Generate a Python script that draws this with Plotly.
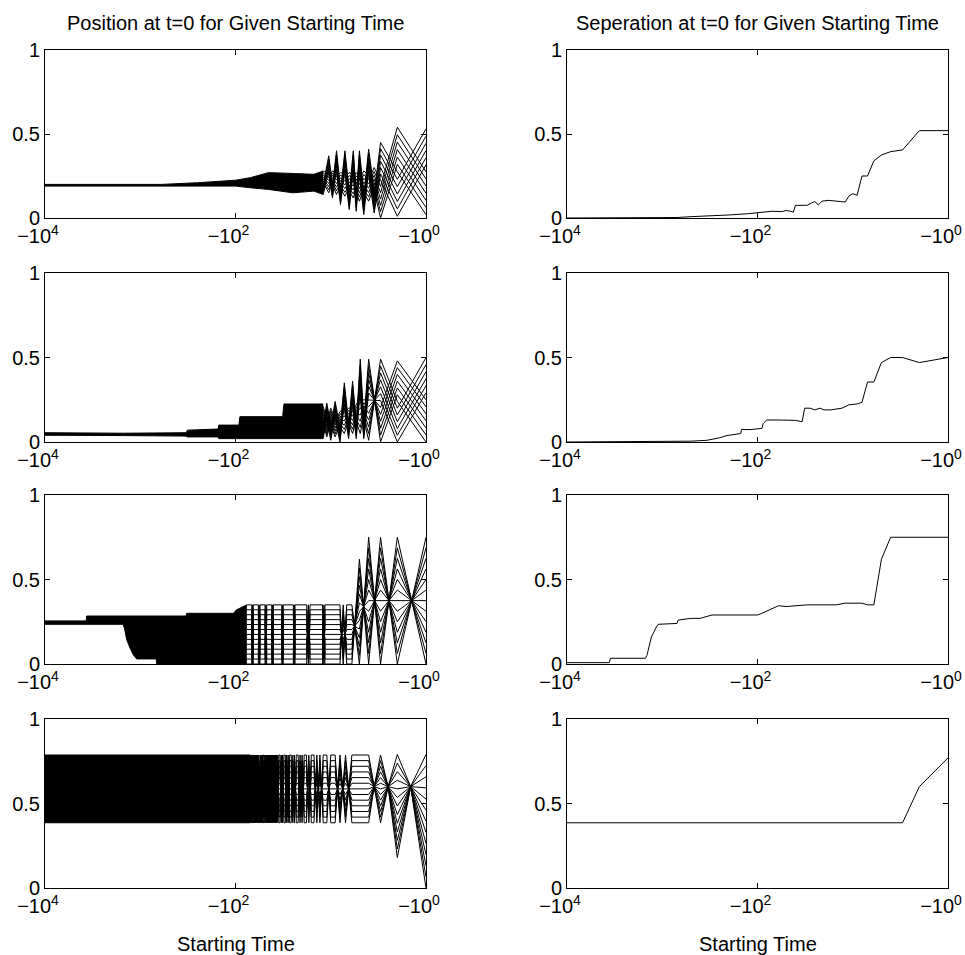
import plotly.graph_objects as go

# ---------------- DATA ----------------
L = 13  # trajectories drawn in each left-hand panel

# Left column, sparse part: |starting time|, lower / upper spread, order change vs previous time
# ('-' first, 'h' half shift -> lattice, 'r' reversed -> bow-tie, 's' same order -> rungs)
p1_n  = [1, 2, 3, 3.5, 4, 4.5, 5, 5.4, 5.8, 6.4, 7.1, 7.9, 8.7, 9.6, 10.5, 12]
p1_lo = [0.02, 0.01, 0.00, 0.03, 0.10, 0.02, 0.10, 0.04, 0.12, 0.05, 0.13, 0.08, 0.14, 0.12, 0.15, 0.14]
p1_hi = [0.53, 0.54, 0.45, 0.30, 0.41, 0.28, 0.40, 0.27, 0.40, 0.27, 0.40, 0.27, 0.40, 0.28, 0.37, 0.28]
p1_md = "-hhhhhhhhhhhhhhh"
# dense part (solid band): |starting time|, lower, upper
p1_dn  = [12, 15, 25, 45, 70, 100, 250, 600, 10000]
p1_dlo = [0.14, 0.16, 0.15, 0.17, 0.18, 0.19, 0.19, 0.19, 0.19]
p1_dhi = [0.28, 0.26, 0.265, 0.27, 0.24, 0.225, 0.21, 0.20, 0.20]

p2_n  = [1, 2, 3, 4, 4.5, 4.9, 5.4, 5.9, 6.5, 7.2, 8, 9, 10, 11, 12]
p2_lo = [0.0, 0.0, 0.0, 0.01, 0.02, 0.05, 0.02, 0.05, 0.02, 0.05, 0.0, 0.03, 0.01, 0.03, 0.02]
p2_hi = [0.50, 0.48, 0.49, 0.49, 0.25, 0.49, 0.22, 0.36, 0.20, 0.35, 0.18, 0.24, 0.20, 0.23, 0.21]
p2_md = "-hhrhhhhhhhhhhh"
p2_dn  = [12, 31, 32, 90, 92, 150, 152, 320, 330, 1500, 10000]
p2_dlo = [0.02, 0.02, 0.02, 0.02, 0.02, 0.02, 0.03, 0.03, 0.035, 0.038, 0.04]
p2_dhi = [0.225, 0.225, 0.15, 0.15, 0.10, 0.10, 0.077, 0.07, 0.055, 0.052, 0.055]

p3_n  = [1, 2, 3, 4, 5, 6.0, 6.8, 7.4, 8, 11.5, 11.8, 12.2, 16.5, 17.2, 17.9, 23.7, 24.2, 24.7,
         31.5, 32.1, 32.7, 40, 40.8, 41.7, 47, 48, 49, 55.3, 56.4, 57.6, 65, 66.3, 67.6, 76]
p3_lo = [0.0] * 34
p3_hi = [0.75, 0.75, 0.75, 0.75, 0.62] + [0.35] * 29
p3_md = "-rrrrrsrrsrrsrrsrrsrrsrrsrrsrrsrrs"
p3_dn  = [76, 98, 105, 325, 330, 670, 680, 1090, 1180, 1280, 1390, 1450, 1510, 3650, 3700, 10000]
p3_dlo = [0.0, 0.0, 0.0, 0.0, 0.0, 0.0, 0.03, 0.03, 0.053, 0.095, 0.145, 0.2, 0.235, 0.235, 0.235, 0.235]
p3_dhi = [0.35, 0.32, 0.30, 0.30, 0.284, 0.284, 0.284, 0.284, 0.284, 0.284, 0.284, 0.284, 0.284, 0.284, 0.255, 0.255]

p4_n  = [1, 1.45, 2, 2.5, 3, 3.5, 4, 6] + list(range(7, 71))
p4_lo = [0.0, 0.6, 0.18, 0.6, 0.386, 0.6, 0.386, 0.386] + [0.386] * 64
p4_hi = [0.79, 0.6, 0.79, 0.6, 0.787, 0.6, 0.787, 0.787] + [0.787] * 64
p4_md = ("-sssrsrs"
         "rrrsrsrrrsrrsrrrsrrrsrrrsrrrsrrrrrrrrrrrrrrrsrrrrrsrrrrrrrrrsrrrrr")
p4_dn  = [70, 10000]
p4_dlo = [0.386, 0.386]
p4_dhi = [0.787, 0.787]

# Right column: separation at t=0 vs |starting time|
r1_n = [10000, 1000, 700, 500, 300, 200, 130, 100, 80, 70, 55, 50, 45, 42, 40, 35, 30, 27, 25, 23,
        21, 18, 15, 13, 12, 11, 10, 9, 8, 7, 6, 5, 4, 3, 2, 1]
r1_v = [0.0, 0.0, 0.003, 0.008, 0.012, 0.018, 0.025, 0.03, 0.036, 0.04, 0.038, 0.045, 0.04, 0.035,
        0.075, 0.075, 0.076, 0.09, 0.098, 0.078, 0.1, 0.105, 0.1, 0.1, 0.095, 0.13, 0.145, 0.135,
        0.25, 0.25, 0.34, 0.375, 0.395, 0.405, 0.52, 0.52]
r2_n = [10000, 3000, 1000, 500, 340, 250, 210, 170, 150, 147, 120, 100, 90, 87, 80, 60, 40, 34, 32,
        28, 25, 22, 20, 17, 13, 11, 9, 8, 7, 6, 5, 4, 3, 2, 1]
r2_v = [0.0, 0.002, 0.003, 0.005, 0.01, 0.025, 0.038, 0.045, 0.05, 0.075, 0.073, 0.078, 0.08, 0.11,
        0.13, 0.13, 0.128, 0.12, 0.2, 0.2, 0.19, 0.2, 0.19, 0.19, 0.2, 0.22, 0.225, 0.235, 0.355,
        0.355, 0.47, 0.5, 0.5, 0.47, 0.5]
r3_n = [10000, 3600, 3500, 1500, 1450, 1300, 1150, 1100, 700, 680, 500, 400, 300, 100, 90, 75, 60,
        50, 40, 30, 15, 12, 8, 7, 6, 5, 4, 1]
r3_v = [0.008, 0.008, 0.034, 0.034, 0.05, 0.16, 0.22, 0.235, 0.24, 0.26, 0.27, 0.27, 0.29, 0.29,
        0.3, 0.32, 0.345, 0.34, 0.345, 0.35, 0.35, 0.36, 0.36, 0.35, 0.35, 0.62, 0.75, 0.75]
r4_n = [10000, 3, 2, 1]
r4_v = [0.386, 0.386, 0.60, 0.77]

x_tickvals = [10000, 100, 1]
x_ticktext = ["\u221210<sup>4</sup>", "\u221210<sup>2</sup>", "\u221210<sup>0</sup>"]
y_tickvals = [0, 0.5, 1]
y_ticktext = ["0", "0.5", "1"]
titles = ["Position at t=0 for Given Starting Time", "Seperation at t=0 for Given Starting Time"]
xlabel = "Starting Time"

# ---------------- LAYOUT ----------------
W, H = 965, 955
col_px = [(45, 426), (567, 948)]
row_px = [(50, 218), (273, 442), (495, 664), (719, 888)]
FONT = "Liberation Sans, Arial, Helvetica, sans-serif"

fig = go.Figure()


def ensemble(ns, lo, hi, md):
    pos = list(range(L))
    vals = [[0.0] * len(ns) for _ in range(L)]
    for k in range(len(ns)):
        m = md[k]
        if m == "r":
            pos = [L - 1 - p for p in pos]
        elif m == "h":
            pos = [(p + L // 2) % L for p in pos]
        for i in range(L):
            vals[i][k] = lo[k] + (hi[k] - lo[k]) * pos[i] / (L - 1)
    xs, ys = [], []
    for i in range(L):
        xs += list(ns) + [None]
        ys += vals[i] + [None]
    return xs, ys


left = [
    (p1_n, p1_lo, p1_hi, p1_md, p1_dn, p1_dlo, p1_dhi),
    (p2_n, p2_lo, p2_hi, p2_md, p2_dn, p2_dlo, p2_dhi),
    (p3_n, p3_lo, p3_hi, p3_md, p3_dn, p3_dlo, p3_dhi),
    (p4_n, p4_lo, p4_hi, p4_md, p4_dn, p4_dlo, p4_dhi),
]
right = [(r1_n, r1_v), (r2_n, r2_v), (r3_n, r3_v), (r4_n, r4_v)]

axis_id = 0
layout = {}
for r in range(4):
    for c in range(2):
        axis_id += 1
        xa = "x" if axis_id == 1 else f"x{axis_id}"
        ya = "y" if axis_id == 1 else f"y{axis_id}"
        x0, x1 = col_px[c]
        yt, yb = row_px[r]
        common = dict(showline=True, linecolor="black", linewidth=1, mirror="ticks",
                      ticks="inside", ticklen=5, tickcolor="black", tickwidth=1,
                      showgrid=False, zeroline=False, automargin=False,
                      tickfont=dict(family=FONT, size=20, color="black"))
        layout["xaxis" if axis_id == 1 else f"xaxis{axis_id}"] = dict(
            common, type="log", range=[4, 0], domain=[x0 / W, x1 / W],
            anchor=ya, tickmode="array", tickvals=x_tickvals, ticktext=x_ticktext,
            ticklabelshift=7, ticklabeloverflow="allow")
        layout["yaxis" if axis_id == 1 else f"yaxis{axis_id}"] = dict(
            common, range=[0, 1], domain=[1 - yb / H, 1 - yt / H], anchor=xa,
            tickmode="array", tickvals=y_tickvals, ticktext=y_ticktext)
        if c == 0:
            ns, lo, hi, md, dn, dlo, dhi = left[r]
            fig.add_trace(go.Scatter(x=dn + dn[::-1], y=dhi + dlo[::-1], mode="lines",
                                     fill="toself", fillcolor="black",
                                     line=dict(color="black", width=1),
                                     xaxis=xa, yaxis=ya, showlegend=False, hoverinfo="skip"))
            xs, ys = ensemble(ns, lo, hi, md)
            fig.add_trace(go.Scatter(x=xs, y=ys, mode="lines",
                                     line=dict(color="black", width=1),
                                     xaxis=xa, yaxis=ya, showlegend=False))
        else:
            ns, vs = right[r]
            fig.add_trace(go.Scatter(x=ns, y=vs, mode="lines",
                                     line=dict(color="black", width=1),
                                     xaxis=xa, yaxis=ya, showlegend=False))

annotations = []
for c in range(2):
    cx = (col_px[c][0] + col_px[c][1]) / 2 / W
    annotations.append(dict(text=titles[c], x=cx, y=1 - 23 / H, xref="paper", yref="paper",
                            xanchor="center", yanchor="middle", showarrow=False,
                            font=dict(family=FONT, size=20, color="black")))
    annotations.append(dict(text=xlabel, x=cx, y=1 - 944 / H, xref="paper", yref="paper",
                            xanchor="center", yanchor="middle", showarrow=False,
                            font=dict(family=FONT, size=20, color="black")))

fig.update_layout(width=W, height=H, margin=dict(l=0, r=0, t=0, b=0, autoexpand=False),
                  paper_bgcolor="white", plot_bgcolor="white", showlegend=False,
                  annotations=annotations, **layout)

fig.write_html("out.html", config={"displayModeBar": False, "staticPlot": True},
               post_script="document.body.style.margin='0px';document.body.style.overflow='hidden';")
